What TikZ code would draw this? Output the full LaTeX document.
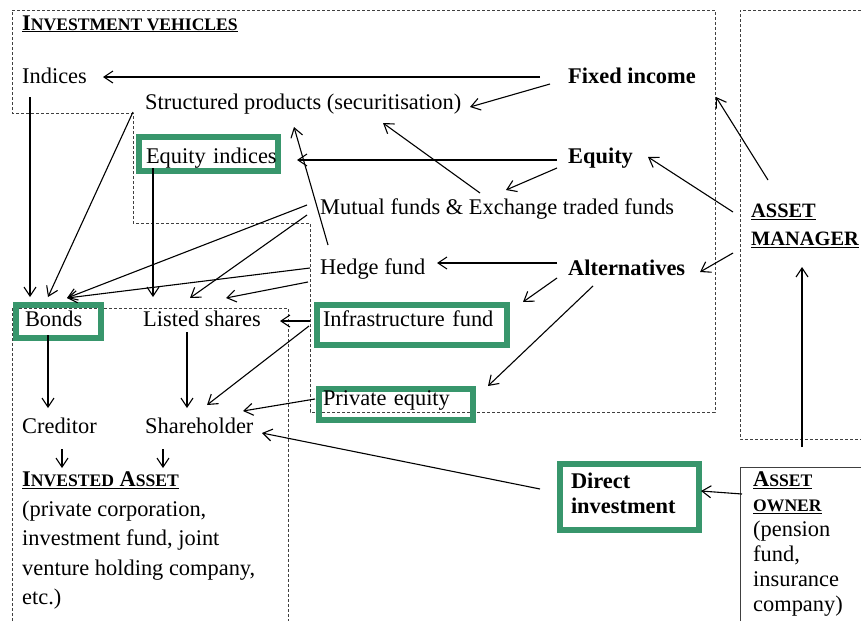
\documentclass[tikz,border=0pt]{standalone}
\usepackage{fontspec}
\setmainfont{Liberation Serif}
\usetikzlibrary{arrows.meta}
\definecolor{vgreen}{RGB}{56,150,108}
% fake small caps: first letter full size, rest smaller
\newcommand{\fsc}[2]{#1{\fontsize{17.6}{20}\selectfont #2}}
\tikzset{
  txt/.style={inner sep=0pt, anchor=base west},
  gbox/.style={draw=vgreen, line width=6pt, inner ysep=0pt, align=left, anchor=base west},
  zone/.style={draw=black!75, line width=0.7pt, dash pattern=on 3pt off 2pt},
  arr/.style={-{Straight Barb[length=9pt,width=12pt]}, line width=1.1pt},
}
\begin{document}
\fontsize{22.4}{25}\selectfont
\begin{tikzpicture}[x=1pt, y=-1pt]
\fill[white] (0,0) rectangle (861,621);
\useasboundingbox (0,0) rectangle (861,621);
% zones
\draw[zone] (12,10) -- (715,10) -- (715,412) -- (310,412) -- (310,223) -- (133,223) -- (133,113) -- (12,113) -- cycle;
\draw[zone] (12,621) -- (12,308) -- (288,308) -- (288,621);
\draw[zone] (861,10) -- (740,10) -- (740,439) -- (861,439);
\draw[black!75, line width=0.8pt] (740,621) -- (740,467) -- (861,467);
% nodes
\node[txt] (veh) at (22,30) {\underline{\textbf{\fsc{I}{NVESTMENT VEHICLES}}}};
\node[txt] (ind) at (22,83) {Indices};
\node[txt] (struct) at (145,109) {Structured products (securitisation)};
\node[txt, font=\bfseries] (fixed) at (568,83) {Fixed income};
\node[gbox, inner xsep=7pt, text width=125pt, text height=26pt, text depth=8pt] (eqind) at (136,163) {\mbox{Equity indices}};
\node[txt, font=\bfseries] (equity) at (568,163) {Equity};
\node[txt] (mutual) at (320,214) {Mutual funds \& Exchange traded funds};
\node[txt, anchor=north west, align=left, font=\bfseries\fontsize{20.4}{28}\selectfont] (am) at (751,204) {\underline{ASSET}\\\underline{MANAGER}};
\node[txt] (hedge) at (320,274) {Hedge fund};
\node[txt, font=\bfseries] (alt) at (568,275) {Alternatives};
\node[gbox, inner xsep=9pt, text width=67pt, text height=21pt, text depth=12pt] (bonds) at (13,326) {Bonds};
\node[txt] (listed) at (143,326) {Listed shares};
\node[gbox, inner xsep=6pt, text width=178pt, text height=21pt, text depth=19pt] (infra) at (314,326) {\mbox{Infrastructure fund}};
\node[gbox, inner xsep=4pt, text width=146pt, text height=16pt, text depth=15pt] (priv) at (316,405) {\mbox{Private equity}};
\node[txt] (cred) at (22,433) {Creditor};
\node[txt] (share) at (145,433) {Shareholder};
\node[txt, anchor=north west, align=left, font=\fontsize{22.4}{29.5}\selectfont] (invested) at (22,472) {\underline{\textbf{\fsc{I}{NVESTED} \fsc{A}{SSET}}}\\(private corporation,\\investment fund, joint\\venture holding company,\\etc.)};
\node[gbox, inner xsep=11pt, text width=117pt, text height=24pt, text depth=42pt, font=\bfseries] (direct) at (557,488) {Direct\\investment};
\node[txt, anchor=north west, align=left] (owner) at (753,472) {\underline{\textbf{\fsc{A}{SSET}}}\\\underline{\textbf{\fsc{}{OWNER}}}\\(pension\\fund,\\insurance\\company)};
% asset classes
\draw[arr] ([shift={(-28,-6)}]fixed.base west) -- ([shift={(81,-6)}]ind.base west);
\draw[arr] ([shift={(-18,1)}]fixed.base west) -- ([shift={(325,-2)}]struct.base west);
\draw[arr] ([shift={(-11,-3)}]equity.base west) -- ([shift={(161,-3)}]eqind.base west);
\draw[arr] ([shift={(-11,5)}]equity.base west) -- ([shift={(186,-24)}]mutual.base west);
\draw[arr] ([shift={(160,-21)}]mutual.base west) -- ([shift={(238,14)}]struct.base west);
\draw[arr] ([shift={(8,-29)}]hedge.base west) -- ([shift={(149,18)}]struct.base west);
\draw[arr] ([shift={(-11,-12)}]alt.base west) -- ([shift={(117,-11)}]hedge.base west);
\draw[arr] ([shift={(-11,3)}]alt.base west) -- ([shift={(209,-24)}]infra.base west);
\draw[arr] ([shift={(25,11)}]alt.base west) -- ([shift={(172,-19)}]priv.base west);
% asset manager
\draw[arr] ([shift={(17,-24)}]am.north west) -- ([shift={(148,14)}]fixed.base west);
\draw[arr] ([shift={(-18,8)}]am.north west) -- ([shift={(80,-6)}]equity.base west);
\draw[arr] ([shift={(-18,49)}]am.north west) -- ([shift={(132,-3)}]alt.base west);
% vehicles to bonds and shares
\draw[arr] ([shift={(8,14)}]ind.base west) -- ([shift={(17,-29)}]bonds.base west);
\draw[arr] ([shift={(-12,3)}]struct.base west) -- ([shift={(35,-29)}]bonds.base west);
\draw[arr] ([shift={(-13,-9)}]mutual.base west) -- ([shift={(54,-28)}]bonds.base west);
\draw[arr] ([shift={(-13,1)}]mutual.base west) -- ([shift={(47,-28)}]listed.base west);
\draw[arr] ([shift={(17,5)}]eqind.base west) -- ([shift={(10,-29)}]listed.base west);
\draw[arr] ([shift={(-10,-6)}]hedge.base west) -- ([shift={(54,-28)}]bonds.base west);
\draw[arr] ([shift={(-12,8)}]hedge.base west) -- ([shift={(83,-28)}]listed.base west);
\draw[arr] ([shift={(-4,-5)}]infra.base west) -- ([shift={(137,-5)}]listed.base west);
\draw[arr] ([shift={(-5,0)}]infra.base west) -- ([shift={(62,-28)}]share.base west);
\draw[arr] ([shift={(-1,-6)}]priv.base west) -- ([shift={(98,-22)}]share.base west);
% invested asset
\draw[arr] ([shift={(35,9)}]bonds.base west) -- ([shift={(26,-25)}]cred.base west);
\draw[arr] ([shift={(44,6)}]listed.base west) -- ([shift={(42,-25)}]share.base west);
\draw[arr] ([shift={(40,16)}]cred.base west) -- ([shift={(40,-4)}]invested.north west);
\draw[arr] ([shift={(18,16)}]share.base west) -- ([shift={(141,-4)}]invested.north west);
% asset owner
\draw[arr] ([shift={(-17,28)}]direct.north west) -- ([shift={(117,0)}]share.base west);
\draw[arr] ([shift={(-11,22)}]owner.north west) -- ([shift={(144,30)}]direct.north west);
\draw[arr] ([shift={(49,-25)}]owner.north west) -- ([shift={(51,63)}]am.north west);
\end{tikzpicture}
\end{document}
